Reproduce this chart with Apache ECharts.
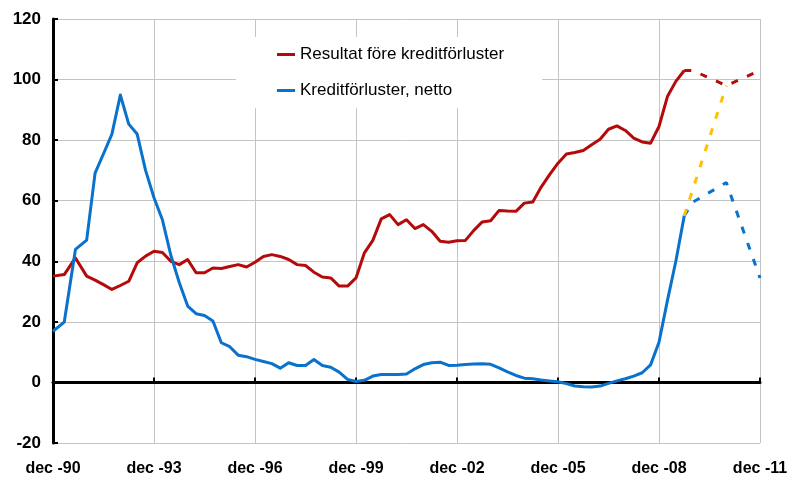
<!DOCTYPE html>
<html>
<head>
<meta charset="utf-8">
<script src="https://cdn.jsdelivr.net/npm/echarts@6/dist/echarts.min.js"></script>
<style>
html,body{margin:0;padding:0;background:#fff;}
#chart{width:795px;height:477px;}
</style>
</head>
<body>
<div id="chart"></div>
<script>
// x positions in quarters after dec-90 (first year reported in tertials)
var periodX = [0, 1.333, 2.667,
  4,5,6,7,8,9,10,11,12,13,14,15,16,17,18,19,20,21,22,23,24,25,26,27,28,29,
  30,31,32,33,34,35,36,37,38,39,40,41,42,43,44,45,46,47,48,49,50,51,52,53,54,
  55,56,57,58,59,60,61,62,63,64,65,66,67,68,69,70,71,72,73,74,75];

var resultat = [35.1, 35.6, 41.1,
  35.1, 33.8, 32.3, 30.7, 32.0, 33.4, 39.5, 41.7, 43.3, 42.9, 40.0, 38.9, 40.6, 36.2,
  36.2, 37.8, 37.6, 38.3, 38.9, 38.1, 39.7, 41.6, 42.2, 41.6, 40.6, 38.9, 38.6, 36.4,
  34.8, 34.5, 31.8, 31.8, 34.5, 42.8, 46.9, 54.0, 55.4, 52.1, 53.7, 50.8, 52.1, 49.9,
  46.6, 46.3, 46.8, 46.9, 50.2, 53.0, 53.4, 56.8, 56.6, 56.5, 59.2, 59.6, 64.5, 68.6,
  72.4, 75.4, 75.9, 76.6, 78.5, 80.3, 83.6, 84.7, 83.2, 80.7, 79.4, 79.0, 84.5, 94.4,
  99.4, 103.0];

var kreditforluster = [16.9, 19.9, 43.9,
  47.0, 69.1, 75.5, 82.0, 94.9, 85.3, 82.0, 70.0, 61.0, 53.7, 42.0, 33.0, 25.2, 22.7,
  22.1, 20.3, 13.1, 11.8, 9.0, 8.5, 7.6, 6.9, 6.2, 4.7, 6.5, 5.6, 5.6, 7.6,
  5.6, 5.0, 3.4, 1.0, 0.3, 0.7, 2.1, 2.6, 2.6, 2.6, 2.8, 4.5, 5.9, 6.5,
  6.7, 5.6, 5.7, 5.9, 6.1, 6.2, 6.0, 4.8, 3.5, 2.3, 1.4, 1.2, 0.8, 0.5,
  0.2, -0.4, -1.2, -1.4, -1.5, -1.2, -0.3, 0.5, 1.2, 2.1, 3.2, 5.8, 13.3, 27.0,
  40.0, 55.0];

// forecasts
var forecastX = [75, 76, 80, 84];
var resultatForecast = [103.0, 103.0, 98.0, 103.0];
var kreditForecast = [55.0, 59.5, 66.0, 34.5];
var bridgeX = [75, 80];
var bridgeValues = [55.0, 98.0];

var tickLabels = ['dec -90','dec -93','dec -96','dec -99','dec -02','dec -05','dec -08','dec -11'];
var yMin = -20, yMax = 120, yStep = 20;

function pairs(xs, ys) { return xs.map(function (x, i) { return [x, ys[i]]; }); }

var FONT = "'Liberation Sans', Arial, sans-serif";
var RED = '#B50A0A', BLUE = '#0A72CC', YELLOW = '#FFC000', GRID = '#C4C4C4';

var chart = echarts.init(document.getElementById('chart'), null, {renderer: 'canvas'});
chart.setOption({
  animation: false,
  backgroundColor: '#fff',
  grid: {left: 53, right: 35, top: 19, bottom: 33, containLabel: false},
  legend: {
    data: ['Resultat före kreditförluster', 'Kreditförluster, netto'],
    orient: 'vertical',
    left: 236, top: 37,
    backgroundColor: '#fff',
    padding: [9, 38, 9, 41],
    itemGap: 19,
    itemWidth: 18, itemHeight: 3,
    icon: 'rect',
    textStyle: {fontSize: 17, color: '#000', fontFamily: FONT}
  },
  xAxis: [{
    type: 'value', min: 0, max: 84, interval: 12,
    axisLine: {show: false, onZero: false},
    axisTick: {show: false},
    axisLabel: {
      fontSize: 16, fontWeight: 'bold', color: '#000', fontFamily: FONT, margin: 18,
      formatter: function (v) { return tickLabels[Math.round(v / 12)] || ''; }
    },
    splitLine: {show: true, lineStyle: {color: GRID, width: 1}}
  }, {
    type: 'value', min: 0, max: 84, interval: 12, position: 'bottom',
    axisLine: {show: true, onZero: true, lineStyle: {color: '#000', width: 3}},
    axisTick: {show: true, inside: true, length: 5, lineStyle: {color: '#000', width: 2}},
    axisLabel: {show: false},
    splitLine: {show: false}
  }],
  yAxis: {
    type: 'value', min: yMin, max: yMax, interval: yStep,
    axisLine: {show: true, onZero: false, lineStyle: {color: '#000', width: 3}},
    axisTick: {show: true, inside: true, length: 5, lineStyle: {color: '#000', width: 2}},
    axisLabel: {fontSize: 17, fontWeight: 'bold', color: '#000', fontFamily: FONT, margin: 12},
    splitLine: {show: true, lineStyle: {color: GRID, width: 1}}
  },
  series: [{
    name: 'Resultat före kreditförluster', type: 'line', xAxisIndex: 0,
    data: pairs(periodX, resultat), symbol: 'none',
    lineStyle: {color: RED, width: 3, join: 'round'}, itemStyle: {color: RED}
  }, {
    name: 'Kreditförluster, netto', type: 'line', xAxisIndex: 0,
    data: pairs(periodX, kreditforluster), symbol: 'none',
    lineStyle: {color: BLUE, width: 3, join: 'round'}, itemStyle: {color: BLUE}
  }, {
    name: 'Resultat prognos', type: 'line', xAxisIndex: 0,
    data: pairs(forecastX, resultatForecast), symbol: 'none',
    lineStyle: {color: RED, width: 3, type: [7, 10]}, itemStyle: {color: RED}
  }, {
    name: 'Kredit prognos', type: 'line', xAxisIndex: 0,
    data: pairs(forecastX, kreditForecast), symbol: 'none',
    lineStyle: {color: BLUE, width: 3, type: [7, 10]}, itemStyle: {color: BLUE}
  }, {
    name: 'Brygga', type: 'line', xAxisIndex: 0,
    data: pairs(bridgeX, bridgeValues), symbol: 'none',
    lineStyle: {color: YELLOW, width: 3, type: [7, 10]}, itemStyle: {color: YELLOW}
  }]
});
</script>
</body>
</html>
